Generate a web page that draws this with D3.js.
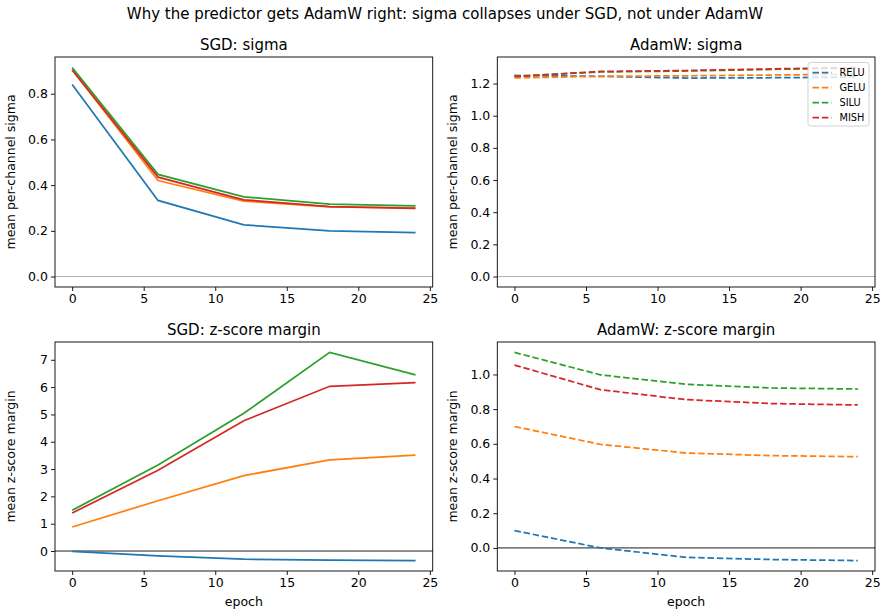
<!DOCTYPE html>
<html>
<head>
<meta charset="utf-8">
<script src="https://cdn.jsdelivr.net/npm/d3@7"></script>
<style>
  html, body { margin: 0; padding: 0; background: #fff; }
  svg { display: block; font-family: "DejaVu Sans", sans-serif; }
</style>
</head>
<body>
<svg id="chart" width="881" height="612"></svg>
<script>
// Epochs at which the runs were evaluated
const epochs = [0, 6, 12, 18, 24];
const activations = ["RELU", "GELU", "SILU", "MISH"];
const colors = ["#1f77b4", "#ff7f0e", "#2ca02c", "#d62728"];

// Mean per-channel sigma, SGD
const sgdSigmaRelu = [0.840, 0.333, 0.226, 0.200, 0.192];
const sgdSigmaGelu = [0.905, 0.420, 0.330, 0.305, 0.300];
const sgdSigmaSilu = [0.915, 0.447, 0.349, 0.317, 0.309];
const sgdSigmaMish = [0.904, 0.435, 0.336, 0.306, 0.298];

// Mean per-channel sigma, AdamW
const adamSigmaRelu = [1.250, 1.245, 1.234, 1.236, 1.240];
const adamSigmaGelu = [1.235, 1.245, 1.248, 1.253, 1.258];
const adamSigmaSilu = [1.245, 1.272, 1.278, 1.288, 1.297];
const adamSigmaMish = [1.244, 1.275, 1.281, 1.291, 1.300];

// Mean z-score margin, SGD
const sgdMarginRelu = [-0.01, -0.18, -0.30, -0.33, -0.35];
const sgdMarginGelu = [0.88, 1.84, 2.76, 3.34, 3.51];
const sgdMarginSilu = [1.49, 3.15, 5.04, 7.27, 6.45];
const sgdMarginMish = [1.39, 2.96, 4.77, 6.03, 6.16];

// Mean z-score margin, AdamW
const adamMarginRelu = [0.100, 0.000, -0.054, -0.067, -0.073];
const adamMarginGelu = [0.700, 0.597, 0.547, 0.532, 0.526];
const adamMarginSilu = [1.127, 0.998, 0.943, 0.922, 0.916];
const adamMarginMish = [1.054, 0.912, 0.855, 0.832, 0.824];

// Tick labels
const xTicks = [0, 5, 10, 15, 20, 25];
const sigmaTicksSgd = [0.0, 0.2, 0.4, 0.6, 0.8];
const sigmaTicksAdam = [0.0, 0.2, 0.4, 0.6, 0.8, 1.0, 1.2];
const marginTicksSgd = [0, 1, 2, 3, 4, 5, 6, 7];
const marginTicksAdam = [0.0, 0.2, 0.4, 0.6, 0.8, 1.0];

const svg = d3.select("#chart");
const tickFont = 12.5;

svg.append("text")
  .attr("x", 445).attr("y", 19)
  .attr("text-anchor", "middle")
  .attr("font-size", 15)
  .attr("fill", "#000")
  .text("Why the predictor gets AdamW right: sigma collapses under SGD, not under AdamW");

const panels = [
  { title: "SGD: sigma", series: [sgdSigmaRelu, sgdSigmaGelu, sgdSigmaSilu, sgdSigmaMish],
    dashed: false, yTicks: sigmaTicksSgd, fmt: d3.format(".1f"), ylabel: "mean per-channel sigma",
    zeroColor: "#b0b0b0", xlabel: false, legend: false,
    box: { x0: 55, x1: 432.7, y0: 57, y1: 287 } },
  { title: "AdamW: sigma", series: [adamSigmaRelu, adamSigmaGelu, adamSigmaSilu, adamSigmaMish],
    dashed: true, yTicks: sigmaTicksAdam, fmt: d3.format(".1f"), ylabel: "mean per-channel sigma",
    zeroColor: "#b0b0b0", xlabel: false, legend: true,
    box: { x0: 497.3, x1: 875, y0: 57, y1: 287 } },
  { title: "SGD: z-score margin", series: [sgdMarginRelu, sgdMarginGelu, sgdMarginSilu, sgdMarginMish],
    dashed: false, yTicks: marginTicksSgd, fmt: d3.format("d"), ylabel: "mean z-score margin",
    zeroColor: "#000", xlabel: true, legend: false,
    box: { x0: 55, x1: 432.7, y0: 342, y1: 571 } },
  { title: "AdamW: z-score margin", series: [adamMarginRelu, adamMarginGelu, adamMarginSilu, adamMarginMish],
    dashed: true, yTicks: marginTicksAdam, fmt: d3.format(".1f"), ylabel: "mean z-score margin",
    zeroColor: "#000", xlabel: true, legend: false,
    box: { x0: 497.3, x1: 875, y0: 342, y1: 571 } }
];

function paddedExtent(values) {
  const lo = d3.min(values), hi = d3.max(values);
  const pad = (hi - lo) * 0.05;
  return [lo - pad, hi + pad];
}

panels.forEach(p => {
  const b = p.box;
  const x = d3.scaleLinear().domain(paddedExtent(epochs)).range([b.x0, b.x1]);
  const allY = p.series.flat().concat([0]);
  const y = d3.scaleLinear().domain(paddedExtent(allY)).range([b.y1, b.y0]);

  const g = svg.append("g");

  g.append("rect")
    .attr("x", b.x0).attr("y", b.y0)
    .attr("width", b.x1 - b.x0).attr("height", b.y1 - b.y0)
    .attr("fill", "#fff");

  // zero reference line
  g.append("line")
    .attr("x1", b.x0).attr("x2", b.x1)
    .attr("y1", y(0)).attr("y2", y(0))
    .attr("stroke", p.zeroColor)
    .attr("stroke-width", p.zeroColor === "#000" ? 0.9 : 1);

  const line = d3.line().x((d, i) => x(epochs[i])).y(d => y(d));

  p.series.forEach((s, i) => {
    g.append("path")
      .datum(s)
      .attr("d", line)
      .attr("fill", "none")
      .attr("stroke", colors[i])
      .attr("stroke-width", 1.75)
      .attr("stroke-dasharray", p.dashed ? "6.5,2.8" : null);
  });

  // axes
  const xAxis = d3.axisBottom(x).tickValues(xTicks).tickFormat(d3.format("d"))
    .tickSize(4).tickSizeOuter(0).tickPadding(3);
  const yAxis = d3.axisLeft(y).tickValues(p.yTicks).tickFormat(p.fmt)
    .tickSize(4).tickSizeOuter(0).tickPadding(3);

  const gx = g.append("g").attr("transform", `translate(0,${b.y1})`).call(xAxis);
  const gy = g.append("g").attr("transform", `translate(${b.x0},0)`).call(yAxis);
  [gx, gy].forEach(ax => {
    ax.select(".domain").remove();
    ax.selectAll("line").attr("stroke", "#000").attr("stroke-width", 0.9);
    ax.selectAll("text").attr("font-size", tickFont).attr("fill", "#000")
      .attr("font-family", "DejaVu Sans, sans-serif");
  });

  // frame
  g.append("rect")
    .attr("x", b.x0).attr("y", b.y0)
    .attr("width", b.x1 - b.x0).attr("height", b.y1 - b.y0)
    .attr("fill", "none").attr("stroke", "#000").attr("stroke-width", 0.9);

  // titles
  g.append("text")
    .attr("x", (b.x0 + b.x1) / 2).attr("y", b.y0 - 7)
    .attr("text-anchor", "middle").attr("font-size", 15).attr("fill", "#000")
    .text(p.title);

  g.append("text")
    .attr("transform", `translate(${b.x0 - 40},${(b.y0 + b.y1) / 2}) rotate(-90)`)
    .attr("text-anchor", "middle").attr("font-size", tickFont).attr("fill", "#000")
    .text(p.ylabel);

  if (p.xlabel) {
    g.append("text")
      .attr("x", (b.x0 + b.x1) / 2).attr("y", b.y1 + 35)
      .attr("text-anchor", "middle").attr("font-size", tickFont).attr("fill", "#000")
      .text("epoch");
  }

  if (p.legend) {
    const lx = b.x1 - 67, ly = b.y0 + 5.5, lw = 61, lh = 63.5;
    const lg = g.append("g");
    lg.append("rect")
      .attr("x", lx).attr("y", ly).attr("width", lw).attr("height", lh)
      .attr("rx", 2.5)
      .attr("fill", "#fff").attr("fill-opacity", 0.8)
      .attr("stroke", "#cccccc").attr("stroke-width", 0.9);
    activations.forEach((name, i) => {
      const cy = ly + 10 + i * 15;
      lg.append("line")
        .attr("x1", lx + 4.5).attr("x2", lx + 23.5)
        .attr("y1", cy).attr("y2", cy)
        .attr("stroke", colors[i]).attr("stroke-width", 1.75)
        .attr("stroke-dasharray", "6.5,2.8");
      lg.append("text")
        .attr("x", lx + 31.5).attr("y", cy + 3.5)
        .attr("font-size", 9.8).attr("fill", "#000")
        .text(name);
    });
  }
});
</script>
</body>
</html>
